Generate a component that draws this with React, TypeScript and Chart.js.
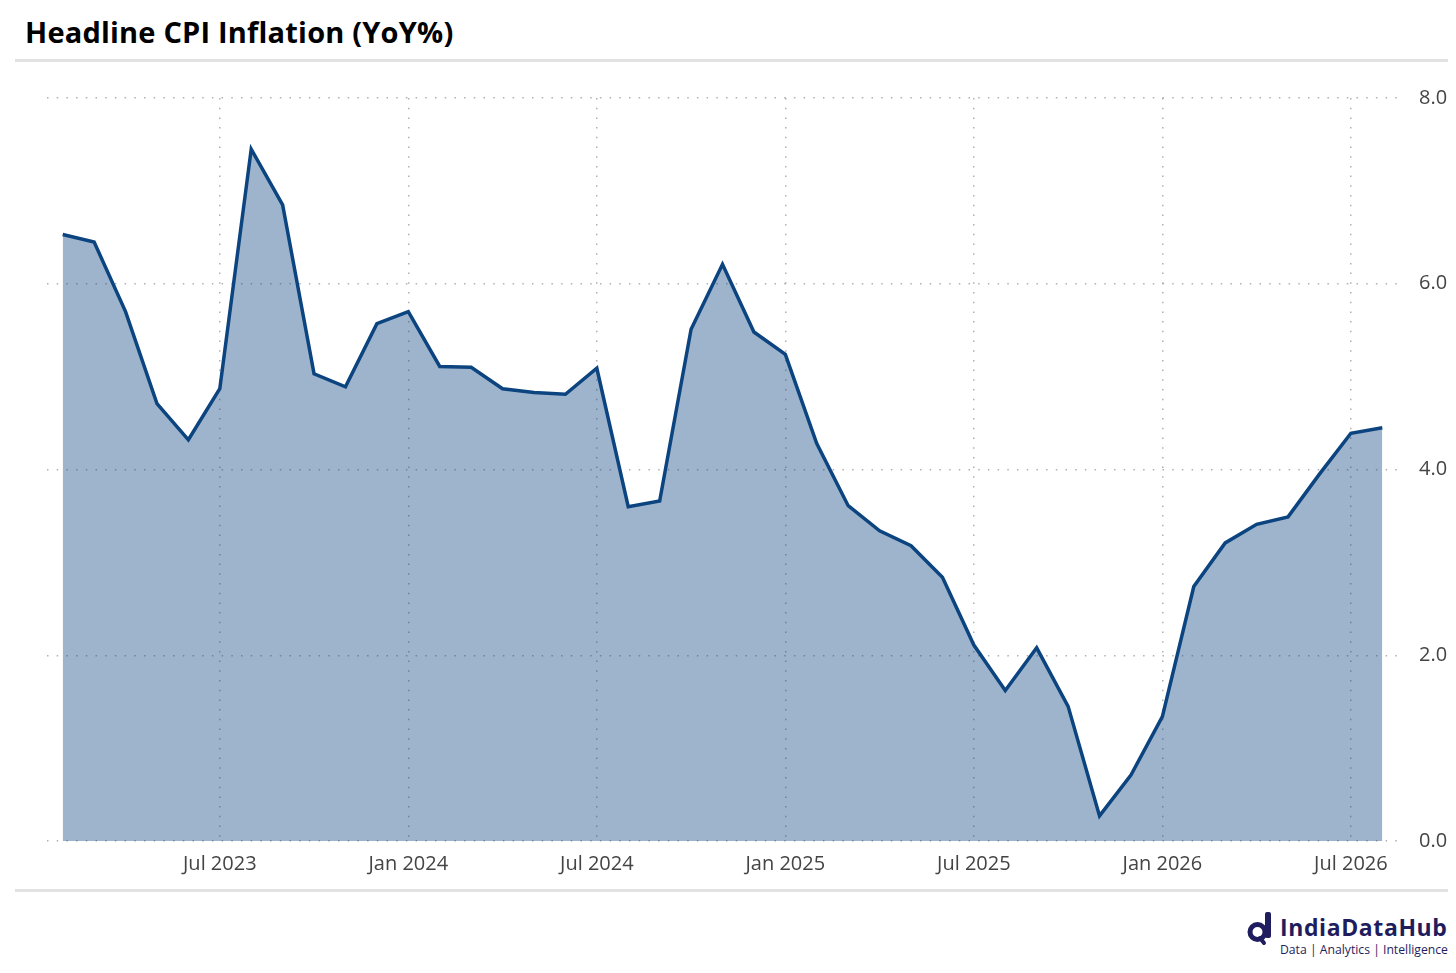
import { Chart, registerables } from 'chart.js';
import { useEffect, useRef } from 'react';

Chart.register(...registerables);

const months = [
  'Feb 2023', 'Mar 2023', 'Apr 2023', 'May 2023', 'Jun 2023', 'Jul 2023', 'Aug 2023', 'Sep 2023', 'Oct 2023', 'Nov 2023', 'Dec 2023',
  'Jan 2024', 'Feb 2024', 'Mar 2024', 'Apr 2024', 'May 2024', 'Jun 2024', 'Jul 2024', 'Aug 2024', 'Sep 2024', 'Oct 2024', 'Nov 2024', 'Dec 2024',
  'Jan 2025', 'Feb 2025', 'Mar 2025', 'Apr 2025', 'May 2025', 'Jun 2025', 'Jul 2025', 'Aug 2025', 'Sep 2025', 'Oct 2025', 'Nov 2025', 'Dec 2025',
  'Jan 2026', 'Feb 2026', 'Mar 2026', 'Apr 2026', 'May 2026', 'Jun 2026', 'Jul 2026', 'Aug 2026',
];

const cpiYoY = [
  6.53, 6.45, 5.70, 4.71, 4.32, 4.87, 7.45, 6.85, 5.03, 4.89, 5.57,
  5.70, 5.11, 5.10, 4.87, 4.83, 4.81, 5.09, 3.60, 3.66, 5.51, 6.21, 5.48,
  5.24, 4.28, 3.61, 3.34, 3.18, 2.84, 2.11, 1.62, 2.08, 1.45, 0.27, 0.71,
  1.34, 2.74, 3.21, 3.41, 3.49, 3.95, 4.39, 4.45,
];

const tickLabels = ['Jul 2023', 'Jan 2024', 'Jul 2024', 'Jan 2025', 'Jul 2025', 'Jan 2026', 'Jul 2026'];

const FONT = '"Open Sans", "Noto Sans", sans-serif';
const LINE = 'rgb(12,68,128)';
const FILL = 'rgba(12,68,128,0.4)';
const GRID = 'rgba(150,150,150,0.75)';
const NAVY = '#1f1d5e';

const CpiChart = () => {
  const chartRef = useRef<HTMLCanvasElement>(null);
  const chartInstanceRef = useRef<Chart | null>(null);

  useEffect(() => {
    if (!chartRef.current) return;
    if (chartInstanceRef.current) chartInstanceRef.current.destroy();
    chartInstanceRef.current = new Chart(chartRef.current, {
      type: 'line',
      data: {
        labels: months,
        datasets: [{
          data: cpiYoY,
          borderColor: LINE,
          backgroundColor: FILL,
          borderWidth: 3.5,
          fill: 'origin',
          pointRadius: 0,
          tension: 0,
        }],
      },
      options: {
        responsive: false,
        animation: false,
        layout: { padding: { left: 32, top: 4, right: 0, bottom: 0 } },
        plugins: { legend: { display: false }, tooltip: { enabled: false }, title: { display: false } },
        scales: {
          x: {
            type: 'category',
            offset: true,
            grid: { color: GRID, lineWidth: 1.5, drawTicks: false, offset: false },
            border: { display: false, dash: [1.5, 8.2] },
            afterBuildTicks: (scale) => {
              scale.ticks = scale.ticks.filter((t) => tickLabels.includes(months[t.value as number]));
            },
            afterFit: (scale) => { scale.height = 49; },
            ticks: {
              autoSkip: false,
              maxRotation: 0,
              padding: 11,
              color: '#444',
              font: { family: FONT, size: 20 },
            },
          },
          y: {
            position: 'right',
            min: 0,
            max: 8,
            grid: { color: GRID, lineWidth: 1.5, drawTicks: false },
            border: { display: false, dash: [1.5, 8.2] },
            afterFit: (scale) => { scale.width = 58; },
            ticks: {
              stepSize: 2,
              padding: 21,
              color: '#444',
              font: { family: FONT, size: 20 },
              callback: (v) => Number(v).toFixed(1),
            },
          },
        },
      },
    });
    return () => {
      if (chartInstanceRef.current) chartInstanceRef.current.destroy();
      chartInstanceRef.current = null;
    };
  }, []);

  return <canvas ref={chartRef} width={1441} height={825} style={{ display: 'block' }} />;
};

const Logo = () => (
  <div style={{ position: 'absolute', left: 1238, top: 902, width: 212, height: 56, color: NAVY }}>
    <svg width={32} height={42} style={{ position: 'absolute', left: 0, top: 0 }}>
      <rect x={19} y={2} width={6} height={26} rx={2} fill={NAVY} />
      <circle cx={11.5} cy={22} r={7.5} fill="none" stroke={NAVY} strokeWidth={5} />
      <line x1={14} y1={28} x2={18} y2={33} stroke={NAVY} strokeWidth={4} strokeLinecap="round" />
    </svg>
    <div style={{ position: 'absolute', left: 34, top: 3, fontFamily: FONT, fontWeight: 700, fontSize: 23, lineHeight: '28px', letterSpacing: 0.6, whiteSpace: 'nowrap' }}>
      IndiaDataHub
    </div>
    <div style={{ position: 'absolute', left: 34, top: 32, fontFamily: FONT, fontSize: 12.2, lineHeight: '16px', whiteSpace: 'nowrap' }}>
      Data | Analytics | Intelligence
    </div>
  </div>
);

const App = () => (
  <div style={{ position: 'relative', width: 1440, height: 957, fontFamily: FONT }}>
    <div style={{ position: 'absolute', left: 17, top: 9, fontSize: 29, fontWeight: 700, lineHeight: '29px', letterSpacing: 0.2, color: '#000', whiteSpace: 'nowrap' }}>
      Headline CPI Inflation (YoY%)
    </div>
    <div style={{ position: 'absolute', left: 7, top: 51, width: 1441, height: 3, background: '#e2e2e2' }} />
    <div style={{ position: 'absolute', left: 7, top: 57 }}>
      <CpiChart />
    </div>
    <div style={{ position: 'absolute', left: 7, top: 881, width: 1438, height: 3, background: '#e2e2e2' }} />
    <Logo />
  </div>
);

export default App;
